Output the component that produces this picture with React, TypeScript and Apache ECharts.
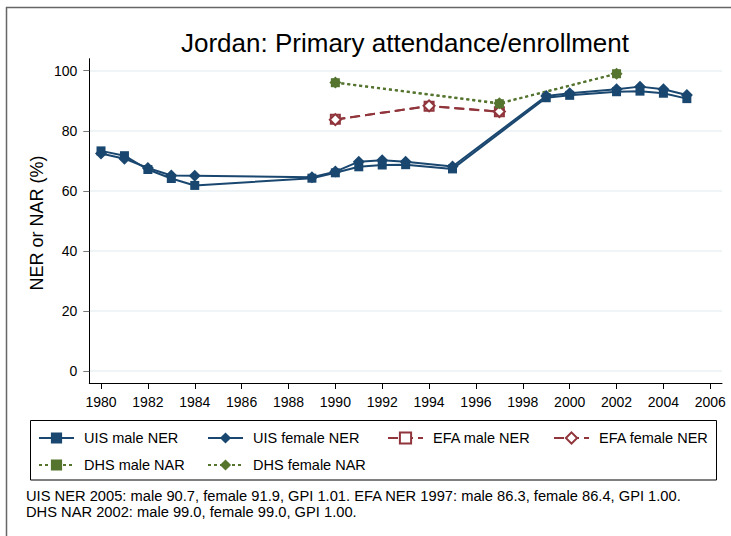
import React, { useEffect, useRef } from "react";
import * as echarts from "echarts";

const FONT = "'Liberation Sans', Arial, Helvetica, sans-serif";

const titleText = "Jordan: Primary attendance/enrollment";
const yTitle = "NER or NAR (%)";
const noteLines = [
  "UIS NER 2005: male 90.7, female 91.9, GPI 1.01. EFA NER 1997: male 86.3, female 86.4, GPI 1.00.",
  "DHS NAR 2002: male 99.0, female 99.0, GPI 1.00.",
];

const xTicks = [1980, 1982, 1984, 1986, 1988, 1990, 1992, 1994, 1996, 1998, 2000, 2002, 2004, 2006];
const yTicks = [0, 20, 40, 60, 80, 100];

const uisYears = [1980, 1981, 1982, 1983, 1984, 1989, 1990, 1991, 1992, 1993, 1995, 1999, 2000, 2002, 2003, 2004, 2005];
const uisMale = [73.3, 71.7, 67.1, 64.1, 61.8, 64.2, 66.0, 68.0, 68.6, 68.7, 67.3, 91.0, 91.8, 93.0, 93.2, 92.5, 90.7];
const uisFemale = [72.4, 70.7, 67.6, 65.1, 65.0, 64.5, 66.4, 69.7, 70.2, 69.7, 68.1, 91.6, 92.5, 93.8, 94.7, 93.8, 91.9];

const efaYears = [1990, 1994, 1997];
const efaMale = [83.8, 88.2, 86.3];
const efaFemale = [83.7, 88.3, 86.4];

const dhsYears = [1990, 1997, 2002];
const dhsMale = [96.0, 89.0, 99.0];
const dhsFemale = [96.1, 89.2, 99.0];

const NAVY = "#1a476f";
const MAROON = "#90353b";
const GREEN = "#55752f";

const pairs = (xs: number[], ys: number[]) => xs.map((x, i) => [x, ys[i]]);

export default function App() {
  const ref = useRef<HTMLDivElement>(null);
  useEffect(() => {
    if (!ref.current) return;
    const chart = echarts.init(ref.current, undefined, { renderer: "svg" });

    const seriesDefs = [
      { name: "UIS male NER", xs: uisYears, ys: uisMale, color: NAVY, symbol: "rect", size: 9, dash: "solid" as any },
      { name: "UIS female NER", xs: uisYears, ys: uisFemale, color: NAVY, symbol: "diamond", size: 12, dash: "solid" as any },
      { name: "EFA male NER", xs: efaYears, ys: efaMale, color: MAROON, symbol: "emptyRect", size: 9, dash: [10, 5] },
      { name: "EFA female NER", xs: efaYears, ys: efaFemale, color: MAROON, symbol: "emptyDiamond", size: 11, dash: [10, 5] },
      { name: "DHS male NAR", xs: dhsYears, ys: dhsMale, color: GREEN, symbol: "rect", size: 9, dash: [3, 3] },
      { name: "DHS female NAR", xs: dhsYears, ys: dhsFemale, color: GREEN, symbol: "diamond", size: 12, dash: [3, 3] },
    ];

    const legendPos = [
      { left: 38, top: 430 },
      { left: 207, top: 430 },
      { left: 387, top: 430 },
      { left: 553, top: 430 },
      { left: 38, top: 457 },
      { left: 207, top: 457 },
    ];

    const option: any = {
      animation: false,
      backgroundColor: "#ffffff",
      grid: { left: 89.3, right: 9, top: 58.7, bottom: 153 },
      xAxis: {
        type: "value",
        min: 1979.5,
        max: 2006.5,
        axisLine: { show: true, onZero: false, lineStyle: { color: "#000", width: 1 } },
        axisTick: { show: true, length: 6, customValues: xTicks, lineStyle: { color: "#000", width: 1 } },
        axisLabel: {
          customValues: xTicks, margin: 12, fontSize: 14, color: "#000", fontFamily: FONT,
          formatter: (v: number) => String(Math.round(v)),
        },
        splitLine: { show: false },
      },
      yAxis: {
        type: "value",
        min: -4,
        max: 104,
        axisLine: { show: true, onZero: false, lineStyle: { color: "#000", width: 1 } },
        axisTick: { show: true, length: 6, customValues: yTicks, lineStyle: { color: "#777", width: 1 } },
        axisLabel: {
          customValues: yTicks, margin: 12, fontSize: 14, color: "#000", fontFamily: FONT,
          formatter: (v: number) => String(Math.round(v)),
        },
        splitLine: { show: true, lineStyle: { color: "#eaf2f3", width: 1.5 } },
      },
      legend: seriesDefs.map((s, i) => ({
        data: [s.name],
        left: legendPos[i].left,
        top: legendPos[i].top,
        orient: "horizontal",
        padding: 0,
        itemWidth: 35,
        itemHeight: 14,
        selectedMode: false,
        textStyle: { fontSize: 14.5, lineHeight: 16, color: "#000", fontFamily: FONT, padding: [0, 0, 0, 5] },
      })),
      series: seriesDefs.map((s) => ({
        name: s.name,
        type: "line",
        data: pairs(s.xs, s.ys),
        symbol: s.symbol,
        symbolSize: s.size,
        showSymbol: true,
        lineStyle: { color: s.color, width: 2, type: s.dash },
        itemStyle: { color: s.color, borderColor: s.color, borderWidth: s.symbol.startsWith("empty") ? 2 : 0 },
        emphasis: { disabled: true },
      })),
      graphic: [
        { type: "line", shape: { x1: 6, y1: 7.5, x2: 731, y2: 7.5 }, style: { stroke: "#666", lineWidth: 1.5 }, silent: true },
        { type: "line", shape: { x1: 6.5, y1: 7, x2: 6.5, y2: 536 }, style: { stroke: "#666", lineWidth: 1.5 }, silent: true },
        { type: "rect", shape: { x: 30.5, y: 420.5, width: 686, height: 59.5 }, style: { fill: "none", stroke: "#000", lineWidth: 1 }, silent: true, z: -1 },
        {
          type: "text", x: 405, y: 43,
          style: { text: titleText, fontSize: 26, fontFamily: FONT, fill: "#000", textAlign: "center", textVerticalAlign: "middle" },
        },
        {
          type: "text", x: 37, y: 223, rotation: Math.PI / 2,
          style: { text: yTitle, fontSize: 18, fontFamily: FONT, fill: "#000", textAlign: "center", textVerticalAlign: "middle" },
        },
        {
          type: "text", x: 26, y: 495.5,
          style: { text: noteLines[0], fontSize: 14.7, fontFamily: FONT, fill: "#000", textAlign: "left", textVerticalAlign: "middle" },
        },
        {
          type: "text", x: 26, y: 511.5,
          style: { text: noteLines[1], fontSize: 14.7, fontFamily: FONT, fill: "#000", textAlign: "left", textVerticalAlign: "middle" },
        },
      ],
    };
    chart.setOption(option);
    return () => chart.dispose();
  }, []);
  return (
    <div style={{ position: "fixed", left: 0, top: 0, width: 731, height: 536, background: "#fff" }}>
      <div ref={ref} style={{ width: 731, height: 536 }} />
    </div>
  );
}
